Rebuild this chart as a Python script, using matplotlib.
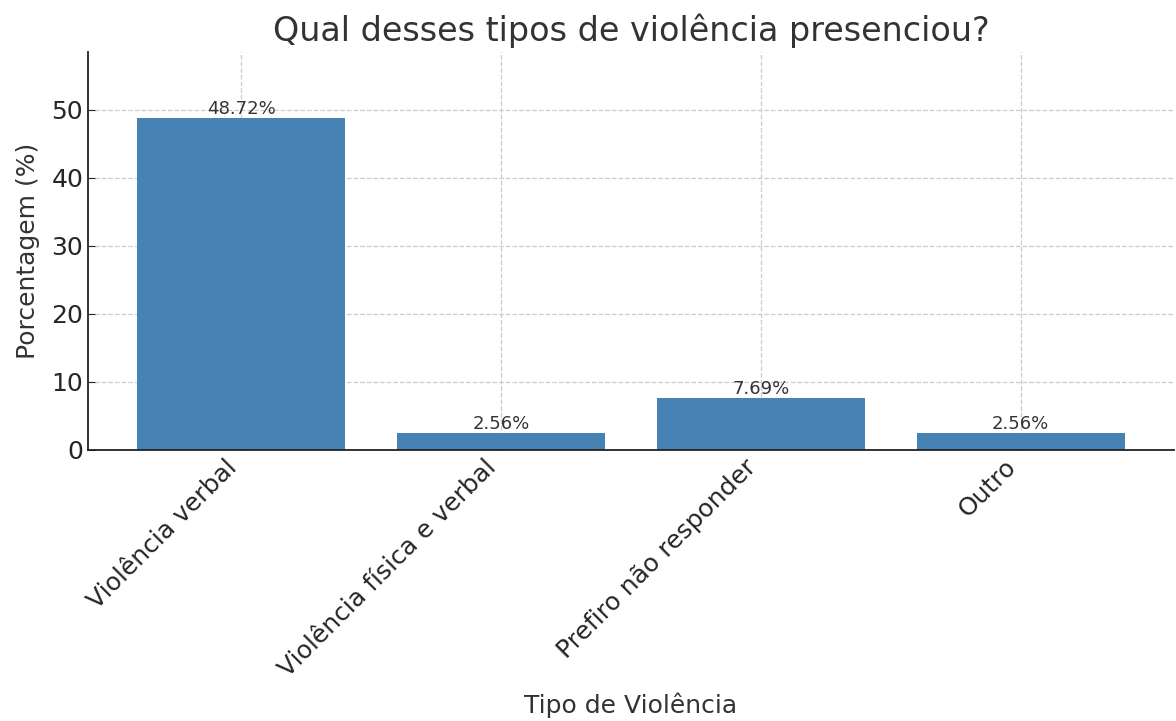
import matplotlib
matplotlib.use("Agg")
import matplotlib.pyplot as plt

# data
categorias = ["Violência verbal", "Violência física e verbal", "Prefiro não responder", "Outro"]
porcentagens = [48.72, 2.56, 7.69, 2.56]

W, H = 1176, 721
fig = plt.figure(figsize=(W / 100, H / 100), dpi=100)
ax = fig.add_axes([88 / W, 1 - 450 / H, (1174 - 88) / W, (450 - 52) / H])

txt = "#333333"
bars = ax.bar(categorias, porcentagens, color="#4682B4", width=0.8, zorder=2)
ax.set_ylim(0, max(porcentagens) * 1.2)

for b, v in zip(bars, porcentagens):
    ax.text(b.get_x() + b.get_width() / 2, b.get_height(), f"{v:.2f}%",
            ha="center", va="bottom", fontsize=13, color=txt, zorder=3)

ax.set_title("Qual desses tipos de violência presenciou?", fontsize=24, color=txt, pad=8)
ax.set_xlabel("Tipo de Violência", fontsize=18, color=txt, labelpad=8)
ax.set_ylabel("Porcentagem (%)", fontsize=18, color=txt, labelpad=8)
ax.set_yticks([0, 10, 20, 30, 40, 50])
ax.tick_params(direction="in", labelsize=18, colors="#262626", length=5)
plt.setp(ax.get_xticklabels(), rotation=45, ha="right")

ax.grid(True, linestyle="--", color="#cccccc", linewidth=0.9, zorder=0)
ax.spines["top"].set_visible(False)
ax.spines["right"].set_visible(False)
for s in ["left", "bottom"]:
    ax.spines[s].set_color("#222222")
    ax.spines[s].set_linewidth(1.3)

fig.savefig("out.png", dpi=100)
